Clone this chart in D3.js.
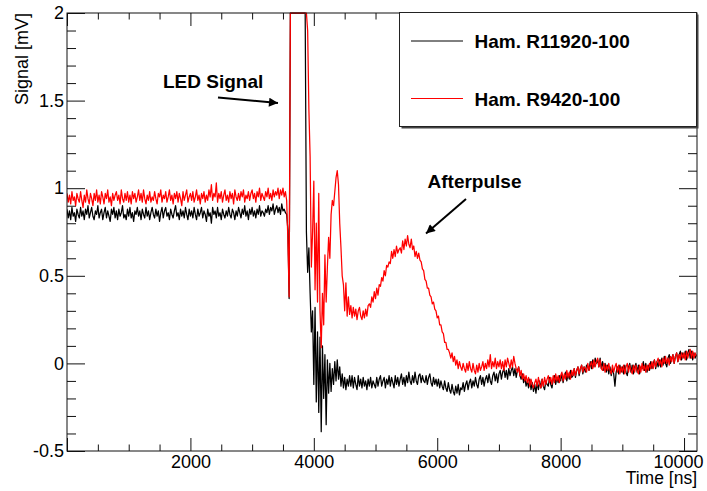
<!DOCTYPE html>
<html>
<head>
<meta charset="utf-8">
<script src="https://cdn.jsdelivr.net/npm/d3@7"></script>
<style>
  html, body { margin: 0; padding: 0; background: #fff; }
  svg { display: block; }
  text { font-family: "Liberation Sans", Arial, Helvetica, sans-serif; }
</style>
</head>
<body>
<svg id="chart" width="707" height="491"></svg>
<script>
// PMT waveforms, sampled every 20 ns from 0 to 10200 ns (signal in mV)
const sampleTimes = d3.range(0, 10201, 20);

const seriesNames = ["Ham. R11920-100", "Ham. R9420-100"];
const seriesColors = ["#000000", "#ff0000"];

const r11920 = [
  .88,.83,.87,.82,.89,.84,.86,.81,.88,.85,
  .83,.89,.84,.87,.82,.88,.85,.90,.83,.86,
  .89,.84,.82,.87,.85,.90,.83,.86,.88,.82,
  .86,.89,.83,.87,.84,.81,.88,.85,.89,.83,
  .87,.82,.88,.84,.86,.90,.83,.85,.82,.88,
  .84,.89,.83,.86,.81,.87,.85,.89,.84,.87,
  .82,.88,.85,.83,.89,.84,.87,.82,.86,.89,
  .85,.83,.88,.84,.87,.81,.86,.89,.83,.87,
  .89,.84,.86,.82,.88,.85,.83,.87,.90,.84,
  .86,.82,.88,.84,.87,.83,.89,.85,.82,.88,
  .84,.87,.83,.89,.85,.82,.88,.84,.86,.89,
  .83,.87,.85,.81,.88,.84,.86,.80,.89,.85,
  .87,.83,.89,.84,.86,.82,.88,.85,.83,.87,
  .84,.89,.85,.83,.88,.86,.82,.87,.84,.89,
  .86,.83,.88,.85,.90,.84,.87,.82,.88,.85,
  .89,.84,.87,.83,.88,.85,.90,.84,.87,.86,
  .84,.88,.86,.90,.85,.89,.87,.91,.85,.88,
  .90,.86,.89,.85,.91,.87,.88,.86,.85,.76,
  .37,2.4,3.2,3.5,3.3,3.0,2.8,2.9,3.1,2.7,
  2.6,2.8,2.5,2.2,.75,.52,.66,.40,.18,.30,
  -.12,.32,-.22,.18,-.28,.15,-.39,.10,-.20,.05,
  -.35,.02,-.17,.00,-.16,-.03,-.12,.01,-.10,.02,
  -.09,-.02,-.13,-.06,-.14,-.08,-.15,-.09,-.13,-.07,
  -.13,-.07,-.14,-.08,-.12,-.15,-.07,-.13,-.09,-.14,
  -.08,-.13,-.10,-.15,-.09,-.13,-.08,-.14,-.10,-.12,
  -.14,-.08,-.13,-.09,-.07,-.13,-.10,-.08,-.14,-.09,
  -.12,-.07,-.13,-.08,-.11,-.14,-.07,-.12,-.08,-.13,
  -.09,-.06,-.12,-.08,-.13,-.07,-.11,-.05,-.10,-.12,
  -.07,-.11,-.05,-.10,-.12,-.07,-.06,-.11,-.07,-.10,
  -.11,-.07,-.12,-.08,-.06,-.11,-.13,-.08,-.12,-.09,
  -.13,-.09,-.14,-.10,-.13,-.15,-.10,-.14,-.16,-.11,
  -.15,-.17,-.12,-.16,-.18,-.13,-.17,-.12,-.18,-.14,
  -.15,-.11,-.16,-.12,-.10,-.15,-.11,-.09,-.14,-.10,
  -.13,-.08,-.12,-.14,-.09,-.07,-.12,-.08,-.13,-.09,
  -.07,-.11,-.06,-.10,-.12,-.07,-.05,-.10,-.06,-.11,
  -.06,-.04,-.09,-.05,-.03,-.08,-.04,-.09,-.03,-.07,
  -.04,-.02,-.07,-.03,-.08,-.04,-.02,-.07,-.09,-.06,
  -.11,-.08,-.13,-.10,-.14,-.09,-.15,-.11,-.16,-.12,
  -.17,-.11,-.15,-.10,-.14,-.09,-.13,-.15,-.10,-.12,
  -.13,-.08,-.12,-.14,-.09,-.07,-.12,-.08,-.11,-.07,
  -.10,-.06,-.11,-.07,-.05,-.10,-.06,-.09,-.04,-.08,
  -.07,-.03,-.08,-.04,-.02,-.07,-.03,-.01,-.06,-.02,
  -.05,-.01,-.02,-.04,.01,-.03,.02,-.02,.03,.00,
  .02,-.02,.03,-.03,.01,-.04,.00,-.05,-.01,-.06,
  -.02,-.07,-.03,-.06,-.13,-.05,-.02,-.06,-.01,-.05,
  -.02,-.06,-.01,-.05,-.07,-.02,.00,-.05,-.01,-.06,
  -.02,.00,-.05,-.01,-.06,-.02,-.03,.01,-.04,.00,
  -.05,-.01,-.04,.01,-.03,.00,.02,-.03,.01,-.02,
  .02,-.02,.03,-.01,.04,.00,-.02,.03,.05,.00,
  .03,.05,.00,.04,.06,.01,.05,.07,.02,.06,
  .03,.07,.02,.06,.08,.03,.07,.02,.06,.03,
  .05
];

const r9420 = [
  .97,.92,.96,.91,.98,.93,.95,.90,.97,.94,
  .92,.98,.93,.89,.96,.92,.99,.94,.91,.97,
  .94,.90,.97,.93,.99,.92,.96,.91,.98,.95,
  .91,.97,.94,.99,.92,.95,.90,.97,.93,.96,
  .98,.93,.96,.91,.99,.94,.92,.97,.93,.98,
  .92,.96,.91,.98,.94,.97,.92,.95,.99,.93,
  .97,.92,.99,.94,.91,.96,.93,.98,.92,.95,
  .93,.98,.94,.91,.97,.95,.99,.92,.96,.94,
  .98,.92,.95,.99,.93,.96,.91,.97,.94,.98,
  .92,.97,.94,.90,.98,.93,.96,.99,.92,.95,
  .97,.93,.98,.92,.95,.99,.93,.96,.91,.97,
  .94,.98,.92,.96,.93,.99,.95,1.02,.93,.97,
  .95,1.03,.92,.97,.94,.98,.92,.96,.99,.93,
  .96,.92,.98,.94,.97,.91,.99,.95,.93,.97,
  .93,.98,.95,.99,.92,.96,.94,.98,.93,.97,
  .99,.94,.97,.92,.98,.95,1.00,.93,.97,.95,
  .93,.98,.95,1.00,.94,.97,.93,.99,.95,.98,
  .96,1.00,.94,.99,.96,1.00,.95,.98,.93,.70,
  .38,2.6,3.4,3.6,3.4,3.2,3.0,3.1,3.3,2.9,
  2.8,3.0,2.7,2.5,2.2,1.90,1.45,1.18,.55,.75,
  1.04,.42,.80,.35,.97,.30,.09,.40,.22,.62,
  .35,.55,.72,.60,.85,.93,.90,.98,1.06,1.10,
  1.02,.80,.66,.50,.45,.30,.46,.27,.38,.28,
  .33,.26,.32,.27,.31,.25,.30,.32,.27,.25,
  .30,.26,.31,.27,.33,.34,.32,.38,.35,.41,
  .37,.43,.39,.45,.44,.49,.47,.53,.50,.56,
  .55,.58,.57,.64,.60,.65,.61,.67,.63,.65,
  .66,.63,.70,.65,.71,.67,.73,.68,.66,.71,
  .65,.67,.61,.64,.60,.63,.59,.58,.54,.53,
  .48,.47,.43,.43,.39,.38,.34,.35,.31,.30,
  .26,.27,.22,.22,.18,.17,.12,.12,.08,.08,
  .06,.03,.06,.01,.04,-.01,.02,-.03,.01,-.02,
  -.04,.00,-.03,-.05,.00,-.04,.01,-.03,-.05,.00,
  -.04,-.06,-.01,-.05,.00,-.04,-.02,.01,-.04,.00,
  -.03,.02,-.02,.05,-.03,.01,-.02,.03,-.03,.01,
  -.02,.02,-.03,.01,-.04,.02,-.02,.03,.00,-.03,
  .02,-.02,.04,.00,-.03,-.05,-.02,-.07,-.04,-.09,
  -.06,-.10,-.07,-.11,-.08,-.13,-.09,-.12,-.14,-.11,
  -.09,-.13,-.08,-.12,-.14,-.09,-.13,-.08,-.12,-.09,
  -.07,-.11,-.08,-.12,-.07,-.11,-.06,-.10,-.07,-.11,
  -.07,-.05,-.10,-.06,-.09,-.04,-.08,-.05,-.09,-.04,
  -.07,-.03,-.07,-.04,-.02,-.06,-.03,-.01,-.05,-.02,
  -.03,-.05,.00,-.04,-.01,.01,-.03,.02,-.02,.01,
  .03,-.02,.02,-.03,-.04,.00,-.05,-.01,-.04,.00,
  -.04,-.06,-.01,-.05,-.02,.00,-.05,-.01,-.06,-.02,
  -.05,-.01,-.06,-.02,.00,-.05,-.01,-.04,-.06,-.01,
  -.05,-.01,-.04,-.06,-.01,-.05,.00,-.04,-.01,-.05,
  -.01,-.04,.00,-.03,.01,-.03,.02,-.02,.01,.03,
  -.01,.02,-.02,.03,.00,.04,.00,.03,-.01,.04,
  .01,.05,.00,.04,.06,.01,.05,.02,.06,.03,
  .06,.02,.07,.03,.06,.08,.03,.07,.03,.06,
  .04
];

const xMajorTicks = [0, 2000, 4000, 6000, 8000, 10000];
const xTickLabels = ["", "2000", "4000", "6000", "8000", "10000"];
const yMajorTicks = [-0.5, 0, 0.5, 1, 1.5, 2];
const yTickLabels = ["-0.5", "0", "0.5", "1", "1.5", "2"];

const annotations = [
  { text: "LED Signal", x: 163, y: 87.5, from: [218, 97.5], to: [278, 103] },
  { text: "Afterpulse", x: 427.5, y: 187.5, from: [466, 199], to: [426, 233.5] }
];

const svg = d3.select("#chart");
const W = 707, H = 491;
const plot = { left: 67, right: 697, top: 13, bottom: 451 };

svg.append("rect").attr("width", W).attr("height", H).attr("fill", "#fff");

const x = d3.scaleLinear().domain([0, 10210]).range([plot.left, plot.right]);
const y = d3.scaleLinear().domain([-0.5, 2]).range([plot.bottom, plot.top]).clamp(true);

const xMinor = d3.range(0, 10210, 500).filter(v => v % 2000 !== 0);
const yMinor = d3.range(-5, 21).map(v => v / 10).filter(v => Math.abs(v * 2 - Math.round(v * 2)) > 1e-6);

const axisColor = "#111";
const fontSize = 18;

function styleAxis(g) {
  g.select(".domain").remove();
  g.selectAll(".tick line").attr("stroke", axisColor).attr("stroke-width", 1);
  g.selectAll(".tick text")
    .attr("fill", "#000")
    .style("font-size", fontSize + "px")
    .style("font-family", "'Liberation Sans', Arial, sans-serif");
}

// bottom axis: major ticks with labels, minor ticks
svg.append("g").attr("transform", `translate(0,${plot.bottom})`)
  .call(d3.axisBottom(x).tickValues(xMinor).tickSize(-6.5).tickFormat(""))
  .call(styleAxis);
const xAxisMajor = svg.append("g").attr("transform", `translate(0,${plot.bottom})`)
  .call(d3.axisBottom(x).tickValues(xMajorTicks).tickSize(-13).tickPadding(4.5)
    .tickFormat((d, i) => xTickLabels[i]))
  .call(styleAxis);
// the last label is kept inside the canvas
xAxisMajor.selectAll(".tick text").filter(d => d === 10000)
  .attr("text-anchor", "end").attr("x", 19);

// top axis (ticks only)
svg.append("g").attr("transform", `translate(0,${plot.top})`)
  .call(d3.axisTop(x).tickValues(xMinor).tickSize(-6.5).tickFormat(""))
  .call(styleAxis);
svg.append("g").attr("transform", `translate(0,${plot.top})`)
  .call(d3.axisTop(x).tickValues(xMajorTicks).tickSize(-13).tickFormat(""))
  .call(styleAxis);

// left axis
svg.append("g").attr("transform", `translate(${plot.left},0)`)
  .call(d3.axisLeft(y).tickValues(yMinor).tickSize(-9).tickFormat(""))
  .call(styleAxis);
svg.append("g").attr("transform", `translate(${plot.left},0)`)
  .call(d3.axisLeft(y).tickValues(yMajorTicks).tickSize(-18).tickPadding(3)
    .tickFormat((d, i) => yTickLabels[i]))
  .call(styleAxis);

// right axis (ticks only)
svg.append("g").attr("transform", `translate(${plot.right},0)`)
  .call(d3.axisRight(y).tickValues(yMinor).tickSize(-9).tickFormat(""))
  .call(styleAxis);
svg.append("g").attr("transform", `translate(${plot.right},0)`)
  .call(d3.axisRight(y).tickValues(yMajorTicks).tickSize(-18).tickFormat(""))
  .call(styleAxis);

// waveforms
svg.append("clipPath").attr("id", "plot-clip")
  .append("rect")
  .attr("x", plot.left).attr("y", plot.top - 1)
  .attr("width", plot.right - plot.left).attr("height", plot.bottom - plot.top + 2);

const line = d3.line()
  .x((d, i) => x(sampleTimes[i]))
  .y(d => y(d));

const traces = svg.append("g").attr("clip-path", "url(#plot-clip)");
[r11920, r9420].forEach((values, k) => {
  traces.append("path")
    .datum(values)
    .attr("d", line)
    .attr("fill", "none")
    .attr("stroke", seriesColors[k])
    .attr("stroke-width", 1.25)
    .attr("stroke-linejoin", "round");
});

// frame
svg.append("rect")
  .attr("x", plot.left).attr("y", plot.top)
  .attr("width", plot.right - plot.left).attr("height", plot.bottom - plot.top)
  .attr("fill", "none").attr("stroke", axisColor).attr("stroke-width", 1);

// axis titles
svg.append("text")
  .attr("transform", `translate(28,${plot.top}) rotate(-90)`)
  .attr("text-anchor", "end")
  .style("font-size", "18px")
  .text("Signal [mV]");

svg.append("text")
  .attr("x", plot.right).attr("y", 483.5)
  .attr("text-anchor", "end")
  .style("font-size", "17.5px")
  .text("Time [ns]");

// annotations with arrows
svg.append("defs").append("marker")
  .attr("id", "arrowhead")
  .attr("viewBox", "0 0 10 10")
  .attr("refX", 10).attr("refY", 5)
  .attr("markerUnits", "userSpaceOnUse")
  .attr("markerWidth", 12).attr("markerHeight", 9)
  .attr("orient", "auto")
  .append("path").attr("d", "M0,0 L10,5 L0,10 Z").attr("fill", "#000");

annotations.forEach(a => {
  svg.append("text")
    .attr("x", a.x).attr("y", a.y)
    .style("font-size", "19px").style("font-weight", "bold")
    .text(a.text);
  svg.append("line")
    .attr("x1", a.from[0]).attr("y1", a.from[1])
    .attr("x2", a.to[0]).attr("y2", a.to[1])
    .attr("stroke", "#000").attr("stroke-width", 2)
    .attr("marker-end", "url(#arrowhead)");
});

// legend
const lg = { x: 399.5, y: 12.5, w: 297, h: 114 };
svg.append("rect")
  .attr("x", lg.x + 2).attr("y", lg.y + 2).attr("width", lg.w).attr("height", lg.h)
  .attr("fill", "#444");
svg.append("rect")
  .attr("x", lg.x).attr("y", lg.y).attr("width", lg.w).attr("height", lg.h)
  .attr("fill", "#fff").attr("stroke", "#222").attr("stroke-width", 1);

const legendRows = [41, 98.5];
seriesNames.forEach((name, k) => {
  svg.append("line")
    .attr("x1", 411).attr("x2", 463)
    .attr("y1", legendRows[k]).attr("y2", legendRows[k])
    .attr("stroke", seriesColors[k]).attr("stroke-width", 1);
  svg.append("text")
    .attr("x", 474.5).attr("y", legendRows[k] + 7)
    .style("font-size", "19px").style("font-weight", "bold")
    .text(name);
});
</script>
</body>
</html>
